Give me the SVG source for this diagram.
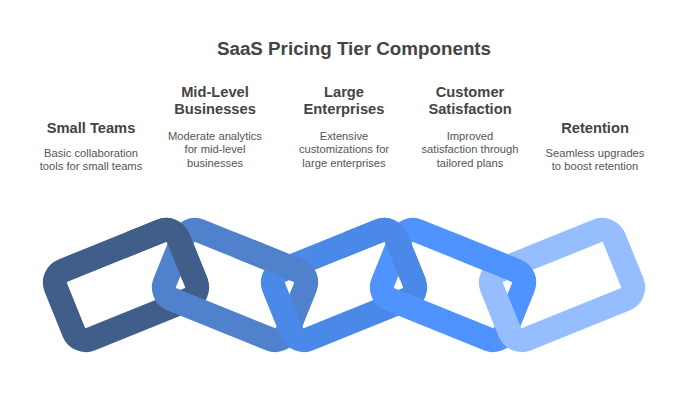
<svg xmlns="http://www.w3.org/2000/svg" xmlns:xlink="http://www.w3.org/1999/xlink" width="700" height="400" viewBox="0 0 700 400">
  <style>
    .title { font-family: "Liberation Sans", Arial, sans-serif; font-size: 18.8px; font-weight: bold; fill: #444444; text-anchor: middle; }
    .head { font-family: "Liberation Sans", Arial, sans-serif; font-size: 14.7px; font-weight: bold; fill: #444444; text-anchor: middle; }
    .desc { font-family: "Liberation Sans", Arial, sans-serif; font-size: 11.2px; fill: #555555; text-anchor: middle; }
    .link { fill: none; stroke-width: 24; }
    .c1 { stroke: #415D8A; }
    .c2 { stroke: #4F81CC; }
    .c3 { stroke: #4A89E8; }
    .c4 { stroke: #4E93FF; }
    .c5 { stroke: #96BEFF; }
  </style>
  <defs>
    <rect id="shape1" class="link c1" x="-66" y="-37" width="132" height="74" rx="13" transform="translate(126,285) rotate(-22)"/>
    <rect id="shape2" class="link c2" x="-66" y="-37" width="132" height="74" rx="13" transform="translate(235,285) rotate(22)"/>
    <rect id="shape3" class="link c3" x="-66" y="-37" width="132" height="74" rx="13" transform="translate(344,285) rotate(-22)"/>
    <rect id="shape4" class="link c4" x="-66" y="-37" width="132" height="74" rx="13" transform="translate(453,285) rotate(22)"/>
    <rect id="shape5" class="link c5" x="-66" y="-37" width="132" height="74" rx="13" transform="translate(562,285) rotate(-22)"/>
    <clipPath id="clip1" clipPathUnits="userSpaceOnUse"><rect x="126" y="190" width="100" height="90"/></clipPath>
    <clipPath id="clip2" clipPathUnits="userSpaceOnUse"><rect x="235" y="190" width="100" height="92"/></clipPath>
    <clipPath id="clip3" clipPathUnits="userSpaceOnUse"><rect x="344" y="190" width="100" height="90"/></clipPath>
    <clipPath id="clip4" clipPathUnits="userSpaceOnUse"><rect x="453" y="190" width="100" height="92"/></clipPath>
  </defs>

  <text class="title" x="354" y="55">SaaS Pricing Tier Components</text>

  <g id="chain">
    <g id="link1"><use xlink:href="#shape1"/></g>
    <g id="link2"><use xlink:href="#shape2"/></g>
    <use xlink:href="#shape1" clip-path="url(#clip1)"/>
    <g id="link3"><use xlink:href="#shape3"/></g>
    <use xlink:href="#shape2" clip-path="url(#clip2)"/>
    <g id="link4"><use xlink:href="#shape4"/></g>
    <use xlink:href="#shape3" clip-path="url(#clip3)"/>
    <g id="link5"><use xlink:href="#shape5"/></g>
    <use xlink:href="#shape4" clip-path="url(#clip4)"/>
  </g>

  <g id="small-teams">
    <text class="head" x="91" y="132.5">Small Teams</text>
    <text class="desc" x="91" y="156.5">Basic collaboration</text>
    <text class="desc" x="91" y="170">tools for small teams</text>
  </g>
  <g id="mid-level-businesses">
    <text class="head" x="215" y="96.5">Mid-Level</text>
    <text class="head" x="215" y="114">Businesses</text>
    <text class="desc" x="215" y="139.5">Moderate analytics</text>
    <text class="desc" x="215" y="153">for mid-level</text>
    <text class="desc" x="215" y="166.5">businesses</text>
  </g>
  <g id="large-enterprises">
    <text class="head" x="344" y="96.5">Large</text>
    <text class="head" x="344" y="114">Enterprises</text>
    <text class="desc" x="344" y="139.5">Extensive</text>
    <text class="desc" x="344" y="153">customizations for</text>
    <text class="desc" x="344" y="166.5">large enterprises</text>
  </g>
  <g id="customer-satisfaction">
    <text class="head" x="470" y="96.5">Customer</text>
    <text class="head" x="470" y="114">Satisfaction</text>
    <text class="desc" x="470" y="139.5">Improved</text>
    <text class="desc" x="470" y="153">satisfaction through</text>
    <text class="desc" x="470" y="166.5">tailored plans</text>
  </g>
  <g id="retention">
    <text class="head" x="595" y="132.5">Retention</text>
    <text class="desc" x="595" y="156.5">Seamless upgrades</text>
    <text class="desc" x="595" y="170">to boost retention</text>
  </g>
</svg>
